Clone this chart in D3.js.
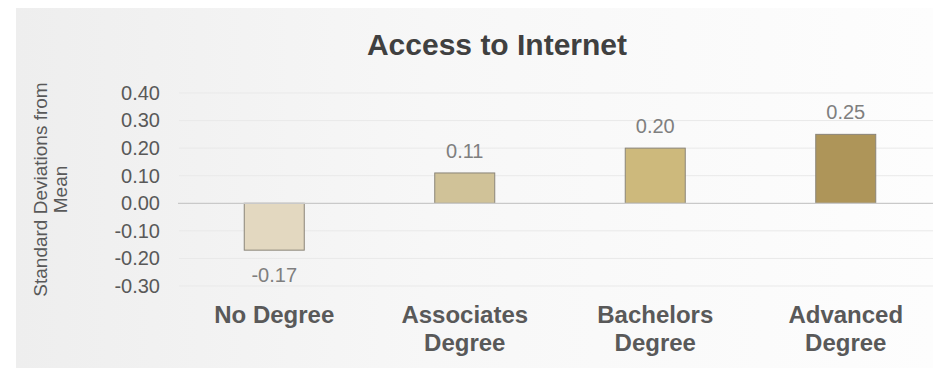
<!DOCTYPE html>
<html lang="en">
<head>
<meta charset="UTF-8">
<title>Access to Internet</title>
<script src="https://d3js.org/d3.v7.min.js"></script>
<style>
  body { margin: 0; background: #fff; }
  text { font-family: "Liberation Sans", Arial, sans-serif; }
</style>
</head>
<body>
<div id="chart"></div>
<script>
// chart data
var categories = [["No Degree"], ["Associates", "Degree"], ["Bachelors", "Degree"], ["Advanced", "Degree"]];
var values = [-0.17, 0.11, 0.20, 0.25];
var barColors = ["#e3d8c0", "#d0c298", "#cdb97c", "#ae9559"];
var yTicks = [-0.30, -0.20, -0.10, 0.00, 0.10, 0.20, 0.30, 0.40];
var titleText = "Access to Internet";
var yTitle = ["Standard Deviations from", "Mean"];

var W = 933, H = 368;

// plain hyphen for negatives, like the original
function fmt(d) { return d.toFixed(2); }

var svg = d3.select("#chart").append("svg")
    .attr("width", W)
    .attr("height", H);

// background panel with soft gray-to-white gradient
var grad = svg.append("defs").append("linearGradient")
    .attr("id", "bg")
    .attr("x1", "0%").attr("x2", "100%")
    .attr("y1", "0%").attr("y2", "0%");
grad.append("stop").attr("offset", "0%").attr("stop-color", "#eeeeee");
grad.append("stop").attr("offset", "45%").attr("stop-color", "#f7f7f7");
grad.append("stop").attr("offset", "100%").attr("stop-color", "#fdfdfd");

svg.append("rect")
    .attr("x", 16).attr("y", 8)
    .attr("width", W - 16).attr("height", H - 8)
    .attr("fill", "url(#bg)");

// scales
var x = d3.scaleBand()
    .domain(d3.range(values.length))
    .range([179, 941])
    .paddingInner(0.685)
    .paddingOuter(0.3425);

var y = d3.scaleLinear()
    .domain([-0.3, 0.4])
    .range([286, 93]);

// gridlines
svg.append("g").selectAll("line")
    .data(yTicks.filter(function(d) { return d !== 0; }))
    .join("line")
    .attr("x1", 179).attr("x2", W)
    .attr("y1", function(d) { return y(d); })
    .attr("y2", function(d) { return y(d); })
    .attr("stroke", "#e9e9e9")
    .attr("stroke-width", 1);

// y axis labels
var yAxis = d3.axisLeft(y)
    .tickValues(yTicks)
    .tickFormat(fmt)
    .tickSize(0)
    .tickPadding(0);

var yg = svg.append("g")
    .attr("transform", "translate(160,0)")
    .call(yAxis);
yg.select(".domain").remove();
yg.selectAll("text")
    .attr("font-size", "20px")
    .attr("fill", "#595959")
    .style("font-family", "'Liberation Sans', Arial, sans-serif");

// bars
svg.append("g").selectAll("rect")
    .data(values)
    .join("rect")
    .attr("x", function(d, i) { return x(i); })
    .attr("width", x.bandwidth())
    .attr("y", function(d) { return y(Math.max(0, d)); })
    .attr("height", function(d) { return Math.abs(y(d) - y(0)); })
    .attr("fill", function(d, i) { return barColors[i]; })
    .attr("stroke", "#8a8478")
    .attr("stroke-width", 1);

// zero line
svg.append("line")
    .attr("x1", 178).attr("x2", W)
    .attr("y1", y(0)).attr("y2", y(0))
    .attr("stroke", "#c9c9c9")
    .attr("stroke-width", 1.2);

// value labels
svg.append("g").selectAll("text")
    .data(values)
    .join("text")
    .attr("x", function(d, i) { return x(i) + x.bandwidth() / 2; })
    .attr("y", function(d) { return d >= 0 ? y(d) - 15 : y(d) + 32; })
    .attr("text-anchor", "middle")
    .attr("font-size", "20px")
    .attr("fill", "#7f7f7f")
    .text(fmt);

// category labels
var cat = svg.append("g").selectAll("text")
    .data(categories)
    .join("text")
    .attr("text-anchor", "middle")
    .attr("font-size", "24px")
    .attr("font-weight", "bold")
    .attr("fill", "#595959");
cat.each(function(lines, i) {
  var t = d3.select(this);
  lines.forEach(function(s, j) {
    t.append("tspan")
      .attr("x", x(i) + x.bandwidth() / 2)
      .attr("y", 323 + j * 28)
      .text(s);
  });
});

// title
svg.append("text")
    .attr("x", 497)
    .attr("y", 55)
    .attr("text-anchor", "middle")
    .attr("font-size", "30px")
    .attr("font-weight", "bold")
    .attr("fill", "#404040")
    .text(titleText);

// y axis title
var yt = svg.append("text")
    .attr("transform", "translate(0,189.5) rotate(-90)")
    .attr("text-anchor", "middle")
    .attr("font-size", "19px")
    .attr("fill", "#595959");
yTitle.forEach(function(s, j) {
  yt.append("tspan")
    .attr("x", 0)
    .attr("y", 47 + j * 20)
    .text(s);
});
</script>
</body>
</html>
